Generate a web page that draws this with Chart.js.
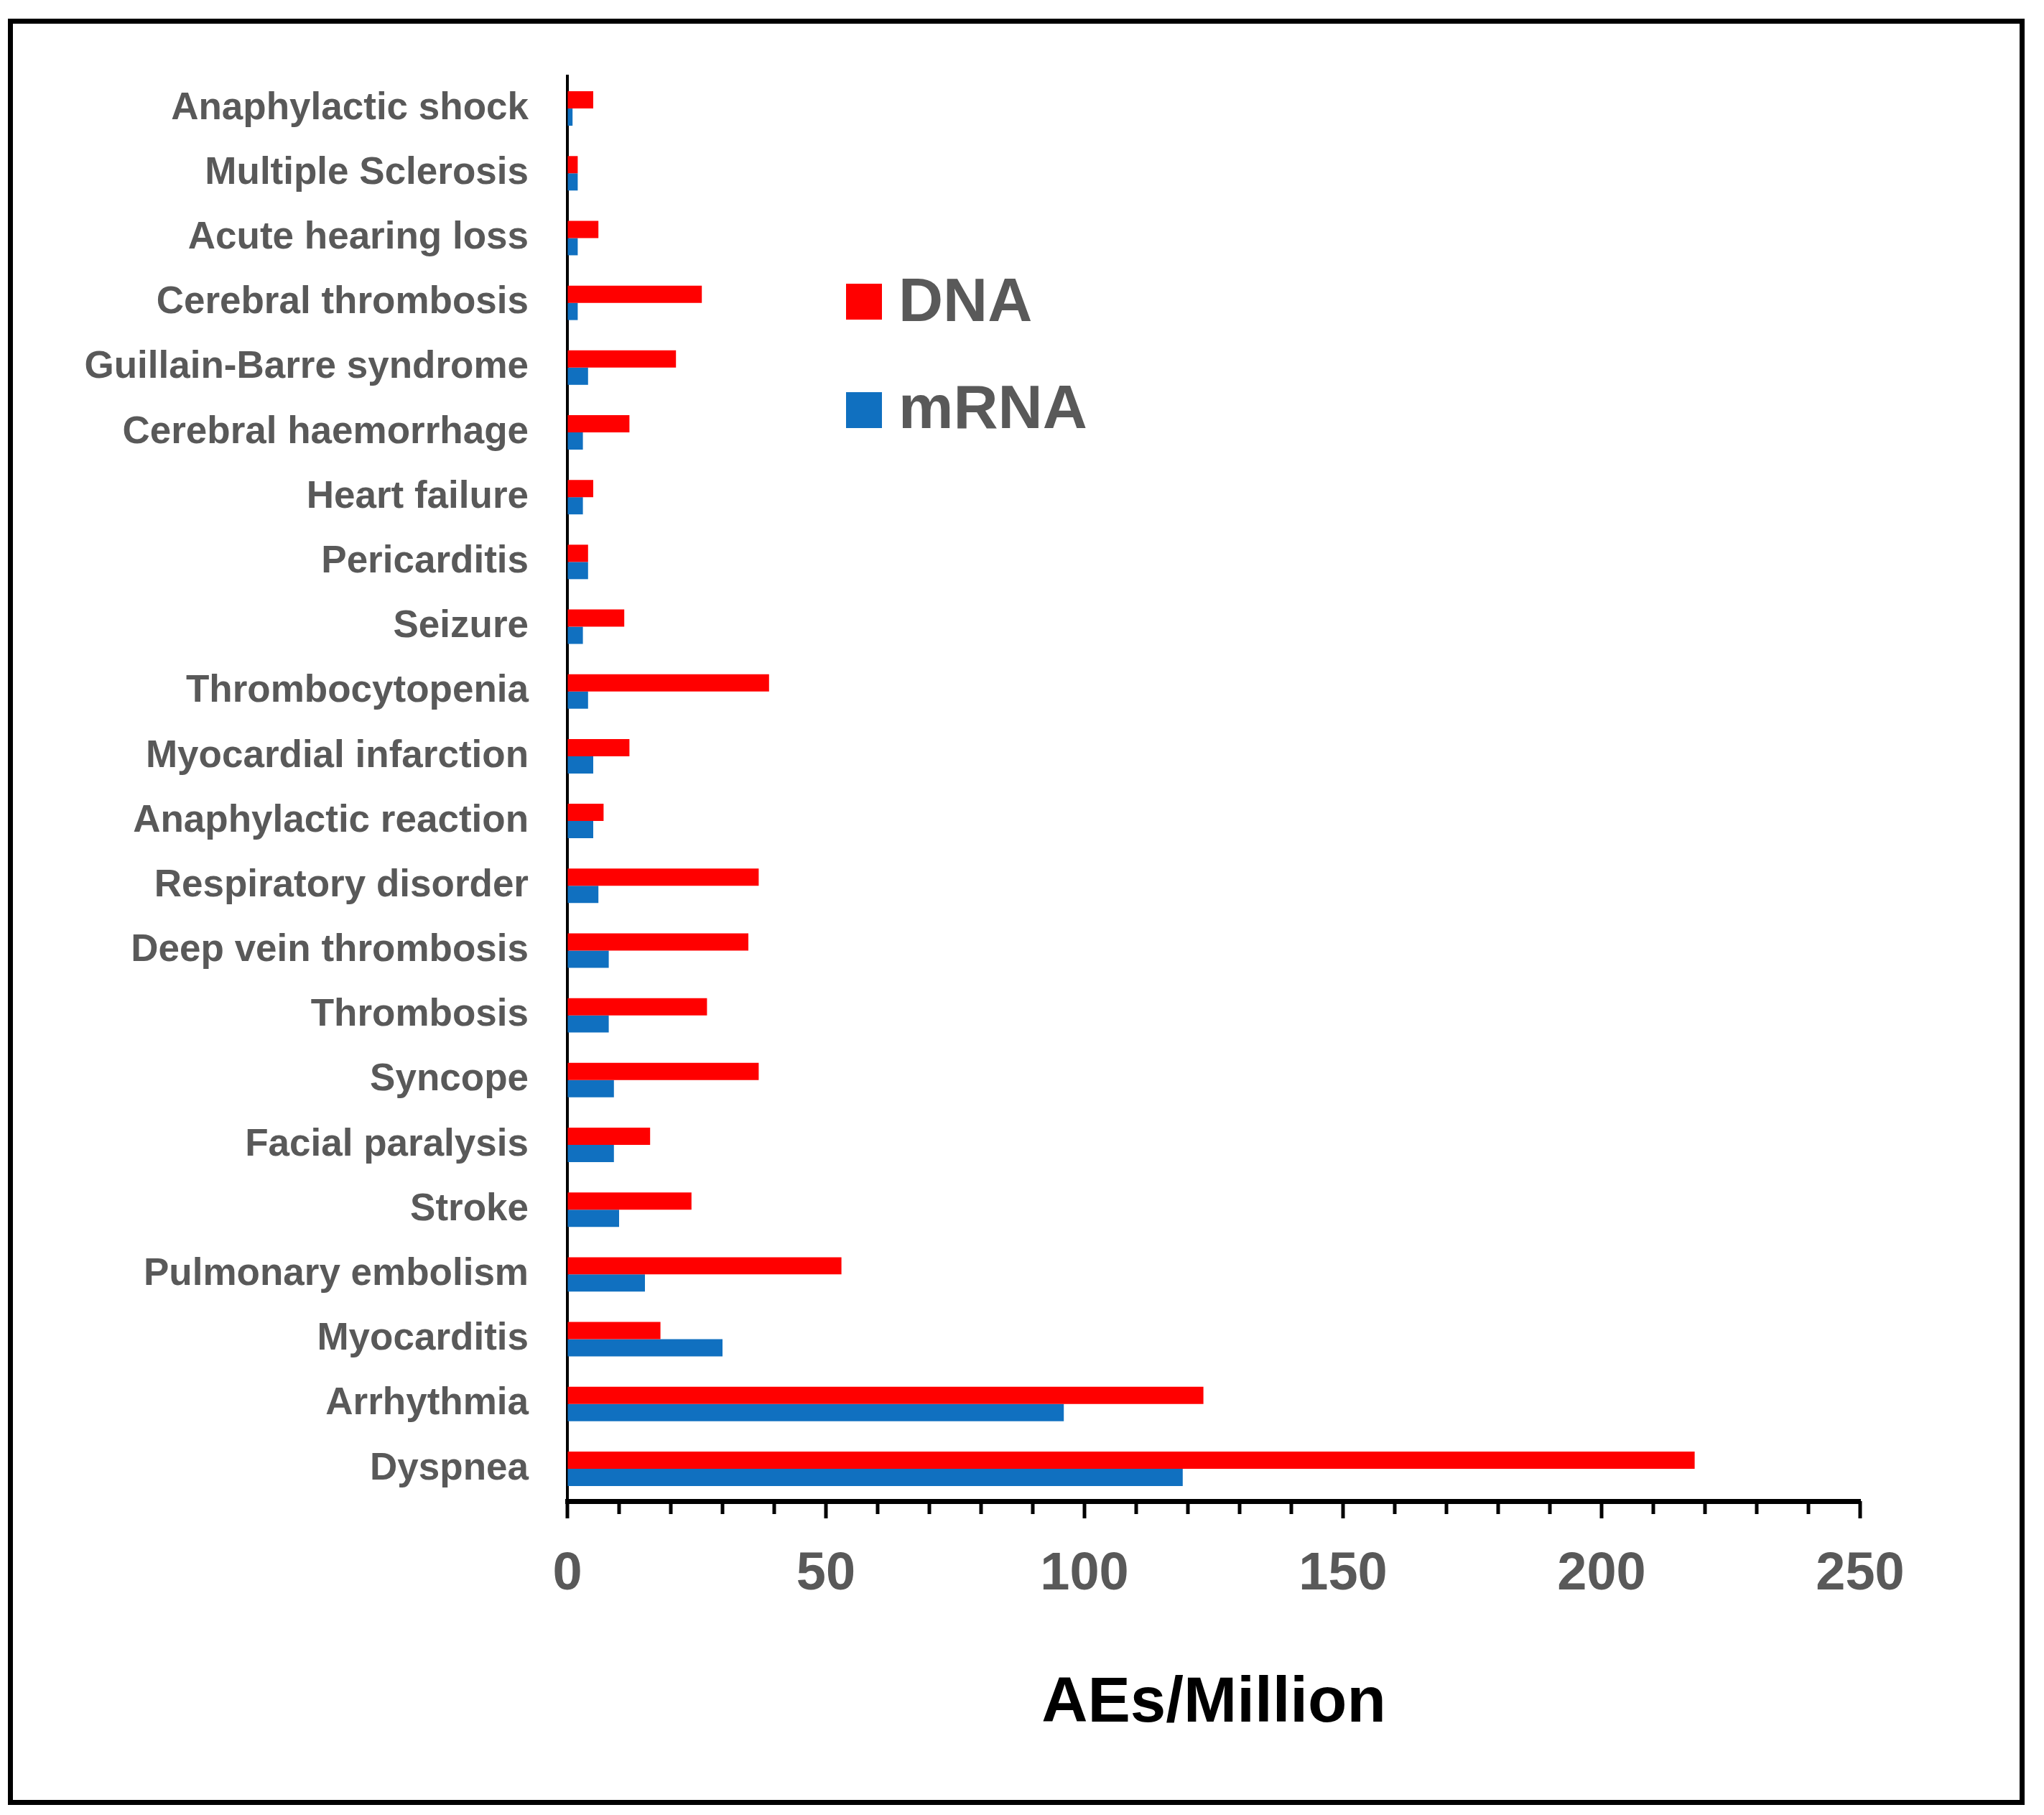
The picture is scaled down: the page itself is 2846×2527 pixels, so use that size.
<!DOCTYPE html>
<html><head><meta charset="utf-8">
<script src="https://cdn.jsdelivr.net/npm/chart.js@4.4.1/dist/chart.umd.min.js"></script>
<style>
html,body{margin:0;padding:0;background:#fff;}
#wrap{position:relative;width:2846px;height:2527px;background:#fff;}
canvas{position:absolute;left:0;top:0;}
#frame{position:absolute;left:11px;top:26px;width:2808px;height:2487px;box-sizing:border-box;border:7px solid #000;pointer-events:none;}
.leg{position:absolute;font-family:"Liberation Sans",Arial,sans-serif;font-weight:bold;font-size:86px;line-height:86px;color:#595959;white-space:nowrap;}
.sw{position:absolute;width:50px;height:50px;}
</style></head>
<body>
<div id="wrap">
<canvas id="c" width="2846" height="2527" style="width:2846px;height:2527px"></canvas>
<div id="frame"></div>
<div id="legend"></div>
</div>
<script>
const categories = ["Anaphylactic shock","Multiple Sclerosis","Acute hearing loss","Cerebral thrombosis","Guillain-Barre syndrome","Cerebral haemorrhage","Heart failure","Pericarditis","Seizure","Thrombocytopenia","Myocardial infarction","Anaphylactic reaction","Respiratory disorder","Deep vein thrombosis","Thrombosis","Syncope","Facial paralysis","Stroke","Pulmonary embolism","Myocarditis","Arrhythmia","Dyspnea"];
const dnaValues  = [5, 2, 6, 26, 21, 12, 5, 4, 11, 39, 12, 7, 37, 35, 27, 37, 16, 24, 53, 18, 123, 218];
const mrnaValues = [1, 2, 2, 2, 4, 3, 3, 4, 3, 4, 5, 5, 6, 8, 8, 9, 9, 10, 15, 30, 96, 119];
const seriesNames = ["DNA", "mRNA"];
const seriesColors = ["#FF0000", "#1070C0"];
const xTickMin = 0, xTickMax = 250, xMajorStep = 50, xMinorStep = 10;
const xAxisTitle = "AEs/Million";

// HTML legend built from series names
const legendPos = [{sq:[1178,395], tx:[1251,374]}, {sq:[1178,546], tx:[1251,523]}];
const legEl = document.getElementById('legend');
seriesNames.forEach((n,i)=>{
  const s=document.createElement('div'); s.className='sw';
  s.style.left=legendPos[i].sq[0]+'px'; s.style.top=legendPos[i].sq[1]+'px'; s.style.background=seriesColors[i];
  const t=document.createElement('div'); t.className='leg'; t.textContent=n;
  t.style.left=legendPos[i].tx[0]+'px'; t.style.top=legendPos[i].tx[1]+'px';
  legEl.appendChild(s); legEl.appendChild(t);
});

const tickPlugin = {
  id:'axisTicks',
  afterDraw(chart){
    const xs = chart.scales.x, ctx = chart.ctx;
    const y0 = xs.top;
    ctx.save(); ctx.strokeStyle='#000'; ctx.lineWidth=5;
    for (let v = xTickMin; v <= xTickMax; v += xMinorStep) {
      const px = xs.getPixelForValue(v);
      const len = (v % xMajorStep === 0) ? 24 : 18;
      ctx.beginPath(); ctx.moveTo(px, y0); ctx.lineTo(px, y0+len); ctx.stroke();
    }
    ctx.restore();
  }
};

Chart.defaults.font.family = '"Liberation Sans", Arial, sans-serif';
new Chart(document.getElementById('c'), {
  type:'bar',
  data:{
    labels: categories,
    datasets:[
      {label:seriesNames[0], data:dnaValues, backgroundColor:seriesColors[0], borderWidth:0, categoryPercentage:0.532, barPercentage:1.0},
      {label:seriesNames[1], data:mrnaValues, backgroundColor:seriesColors[1], borderWidth:0, categoryPercentage:0.532, barPercentage:1.0}
    ]
  },
  options:{
    indexAxis:'y',
    responsive:false,
    animation:false,
    devicePixelRatio:1,
    layout:{padding:{left:0, right:256, top:106, bottom:0}},
    plugins:{legend:{display:false}, tooltip:{enabled:false}, title:{display:false}},
    scales:{
      x:{
        type:'linear', position:'bottom', min:xTickMin, max:xTickMax,
        grid:{display:true, drawOnChartArea:false, drawTicks:false, color:'transparent'},
        border:{display:true, color:'#000', width:7},
        ticks:{stepSize:xMajorStep, padding:58, color:'#595959', font:{size:74, weight:'bold', lineHeight:1.2}},
        title:{display:true, text:xAxisTitle, color:'#000', font:{size:89, weight:'bold', lineHeight:1}, padding:{top:0, bottom:110}},
        afterFit(s){ s.height = 437; }
      },
      y:{
        type:'category',
        grid:{display:false, drawTicks:false},
        border:{display:true, color:'#000', width:4},
        ticks:{padding:54, color:'#595959', font:{size:53, weight:'bold'}, autoSkip:false},
        afterFit(s){ s.width = 790; }
      }
    }
  },
  plugins:[tickPlugin]
});
</script>
</body></html>
